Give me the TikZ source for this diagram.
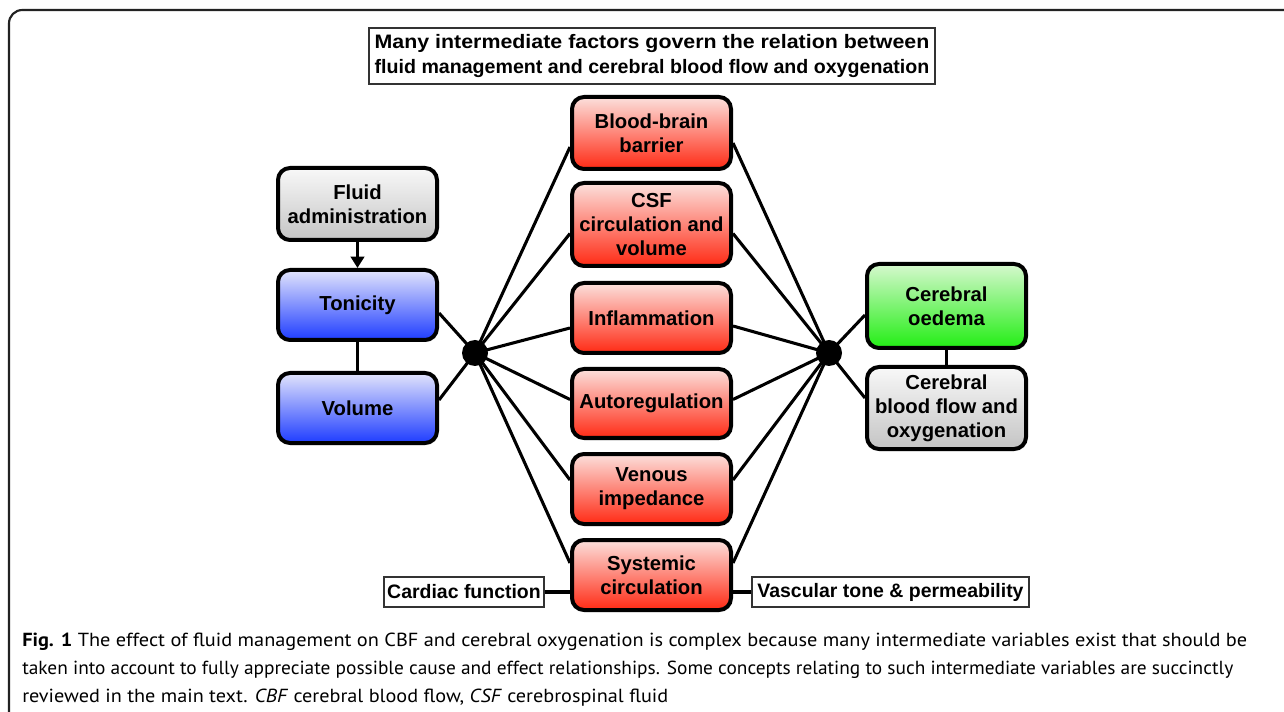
\documentclass[tikz,border=0pt]{standalone}
\usepackage{fontspec}
\usepackage{graphicx}
\setmainfont{Liberation Sans}
\newfontfamily\capfont{PT Sans}
\usetikzlibrary{shadows,arrows.meta,calc}
\definecolor{redtop}{HTML}{FCE0DC}
\definecolor{redbot}{HTML}{FF2A14}
\definecolor{bluetop}{HTML}{E2E4FC}
\definecolor{bluebot}{HTML}{1E3CFF}
\definecolor{greentop}{HTML}{D6F8CE}
\definecolor{greenbot}{HTML}{22EE14}
\definecolor{graytop}{HTML}{F8F8F8}
\definecolor{graybot}{HTML}{C4C4C4}
\definecolor{framec}{HTML}{222222}
\begin{document}
\begin{tikzpicture}[x=0.75pt,y=-0.75pt,
  box/.style={draw=black, line width=3pt, rounded corners=9pt, align=center,
    font=\bfseries\fontsize{15.2}{18}\selectfont, minimum width=159*0.75pt, inner sep=0pt,
    drop shadow={opacity=0.25, shadow xshift=1pt, shadow yshift=-1.5pt}},
  redbox/.style={box, top color=redtop, bottom color=redbot},
  bluebox/.style={box, top color=bluetop, bottom color=bluebot},
  greenbox/.style={box, top color=greentop, bottom color=greenbot},
  graybox/.style={box, top color=graytop, bottom color=graybot},
  labelbox/.style={draw=black!80, line width=1.1pt, fill=white, inner sep=0pt, align=center,
    font=\bfseries\fontsize{14.6}{18.6}\selectfont},
  conn/.style={line width=2.3pt, black},
  hub/.style={circle, fill=black, minimum size=26*0.75pt, inner sep=0pt},
  capline/.style={anchor=base west, inner sep=0pt, font=\capfont\fontsize{14.2}{16}\selectfont}
]
\useasboundingbox (0,0) rectangle (1284,712);
\fill[white] (0,0) rectangle (1284,712);
\draw[framec, line width=1.6pt, rounded corners=10pt] (1284,10) -- (9,10) -- (9,712);

\node[labelbox, minimum width=566*0.75pt, minimum height=56*0.75pt] (title) at (652,56)
  {\resizebox{416pt}{\height}{Many intermediate factors govern the relation between}\\
   \resizebox{416pt}{\height}{fluid management and cerebral blood flow and oxygenation}};

\node[graybox, minimum height=72*0.75pt] (fluid) at (357.5,204) {Fluid\\administration};
\node[bluebox, minimum height=70*0.75pt] (ton) at (357.5,305) {Tonicity};
\node[bluebox, minimum height=70*0.75pt] (vol) at (357.5,408) {Volume};

\node[redbox, minimum height=72*0.75pt] (bbb) at (651.5,133) {Blood-brain\\barrier};
\node[redbox, minimum height=83*0.75pt] (csf) at (651.5,224.5) {CSF\\circulation and\\volume};
\node[redbox, minimum height=70*0.75pt] (infl) at (651.5,318) {Inflammation};
\node[redbox, minimum height=69*0.75pt] (auto) at (651.5,403.5) {Autoregulation};
\node[redbox, minimum height=70*0.75pt] (ven) at (651.5,489) {Venous\\impedance};
\node[redbox, minimum height=70*0.75pt] (sys) at (651.5,575) {Systemic\\circulation};

\node[greenbox, minimum height=84*0.75pt] (oed) at (946.5,306) {Cerebral\\oedema};
\node[graybox, minimum height=82*0.75pt] (cbf) at (946.5,408) {Cerebral\\blood flow and\\oxygenation};

\node[labelbox, minimum width=160*0.75pt, minimum height=30*0.75pt] (card) at (464,592) {Cardiac function};
\node[labelbox, minimum width=277*0.75pt, minimum height=30*0.75pt] (vasc) at (890.5,592) {Vascular tone \& permeability};

\node[hub] (ldot) at (475,353) {};
\node[hub] (rdot) at (829,353) {};

% connectors
\draw[conn, -{Triangle[length=8.5pt,width=10pt]}] (fluid.south) -- (ton.north);
\draw[conn] (ton.south) -- (vol.north);
\draw[conn] (oed.south) -- (cbf.north);
\draw[conn] (ldot.center) -- ($(ton.east)+(0,8)$);
\draw[conn] (ldot.center) -- ($(vol.east)+(0,-8)$);
\draw[conn] (ldot.center) -- ($(bbb.west)+(0,14)$);
\draw[conn] (ldot.center) -- ($(csf.west)+(0,9)$);
\draw[conn] (ldot.center) -- ($(infl.west)+(0,10)$);
\draw[conn] (ldot.center) -- ($(auto.west)+(0,-4)$);
\draw[conn] (ldot.center) -- ($(ven.west)+(0,-9)$);
\draw[conn] (ldot.center) -- ($(sys.west)+(0,-12)$);
\draw[conn] (rdot.center) -- ($(bbb.east)+(0,10)$);
\draw[conn] (rdot.center) -- ($(csf.east)+(0,9)$);
\draw[conn] (rdot.center) -- ($(infl.east)+(0,8)$);
\draw[conn] (rdot.center) -- ($(auto.east)+(0,-4)$);
\draw[conn] (rdot.center) -- ($(ven.east)+(0,-9)$);
\draw[conn] (rdot.center) -- ($(sys.east)+(0,-12)$);
\draw[conn] (rdot.center) -- ($(oed.west)+(0,9)$);
\draw[conn] (rdot.center) -- ($(cbf.west)+(0,-10)$);
\draw[conn] (card.east) -- (card.east -| sys.west);
\draw[conn] (vasc.west) -- (vasc.west -| sys.east);

% caption
\node[capline] (cap1) at (22,646) {\resizebox{918.75pt}{\height}{\textbf{Fig. 1} The effect of fluid management on CBF and cerebral oxygenation is complex because many intermediate variables exist that should be}};
\node[capline] (cap2) at (22,674) {\resizebox{908.25pt}{\height}{taken into account to fully appreciate possible cause and effect relationships. Some concepts relating to such intermediate variables are succinctly}};
\node[capline] (cap3) at (22,702) {\resizebox{484.5pt}{\height}{reviewed in the main text. \textit{CBF} cerebral blood flow, \textit{CSF} cerebrospinal fluid}};
\end{tikzpicture}
\end{document}
